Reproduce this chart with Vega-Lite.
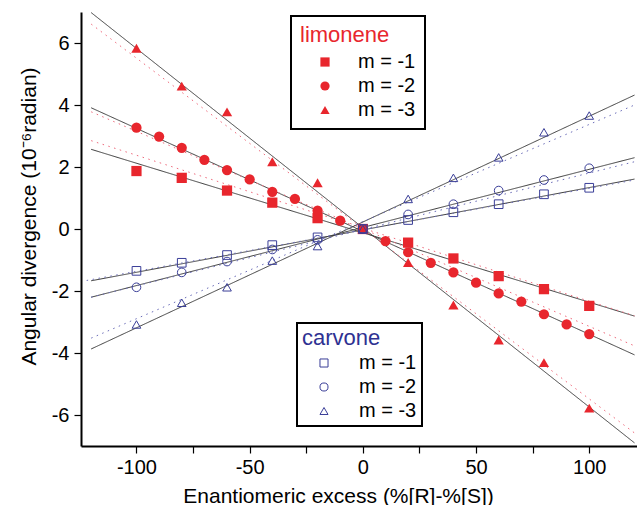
{
  "$schema": "https://vega.github.io/schema/vega-lite/v6.json",
  "width": 556,
  "height": 434,
  "autosize": "none",
  "padding": {"left": 81, "top": 12, "right": 0, "bottom": 59},
  "config": {
    "view": {"stroke": null},
    "font": "Liberation Sans",
    "locale": {"number": {"decimal": ".", "thousands": ",", "grouping": [3], "currency": ["$", ""], "minus": "-"}},
    "axis": {
      "grid": false,
      "domainColor": "black",
      "domainWidth": 2,
      "tickColor": "black",
      "tickWidth": 1.2,
      "tickSize": 7,
      "labelFont": "Liberation Sans",
      "labelFontSize": 20,
      "labelColor": "black",
      "labelOverlap": false,
      "labelFlush": false,
      "titleFont": "Liberation Sans",
      "titleFontSize": 21,
      "titleFontWeight": "normal",
      "titleColor": "black"
    },
    "legend": {"strokeWidth": 2}
  },
  "datasets": {
    "lines": [
      {"id": "ls1", "kind": "fit", "style": "solid", "x": -120, "y": 2.57},
      {"id": "ls1", "kind": "fit", "style": "solid", "x": 120, "y": -2.81},
      {"id": "ls2", "kind": "fit", "style": "solid", "x": -120, "y": 3.91},
      {"id": "ls2", "kind": "fit", "style": "solid", "x": 120, "y": -4.06},
      {"id": "ls3", "kind": "fit", "style": "solid", "x": -120, "y": 6.98},
      {"id": "ls3", "kind": "fit", "style": "solid", "x": 120, "y": -6.9},
      {"id": "ld1", "kind": "limonene", "style": "dotted", "x": -120, "y": 2.85},
      {"id": "ld1", "kind": "limonene", "style": "dotted", "x": 120, "y": -2.8},
      {"id": "ld2", "kind": "limonene", "style": "dotted", "x": -120, "y": 3.78},
      {"id": "ld2", "kind": "limonene", "style": "dotted", "x": 120, "y": -3.77},
      {"id": "ld3", "kind": "limonene", "style": "dotted", "x": -120, "y": 6.61},
      {"id": "ld3", "kind": "limonene", "style": "dotted", "x": 120, "y": -6.58},
      {"id": "cs1", "kind": "fit", "style": "solid", "x": -120, "y": -1.67},
      {"id": "cs1", "kind": "fit", "style": "solid", "x": 120, "y": 1.61},
      {"id": "cs2", "kind": "fit", "style": "solid", "x": -120, "y": -2.2},
      {"id": "cs2", "kind": "fit", "style": "solid", "x": 120, "y": 2.3},
      {"id": "cs3", "kind": "fit", "style": "solid", "x": -120, "y": -3.87},
      {"id": "cs3", "kind": "fit", "style": "solid", "x": 120, "y": 4.32},
      {"id": "cd1", "kind": "carvone", "style": "dotted", "x": -122, "y": -1.66},
      {"id": "cd1", "kind": "carvone", "style": "dotted", "x": 120, "y": 1.58},
      {"id": "cd2", "kind": "carvone", "style": "dotted", "x": -120, "y": -2.2},
      {"id": "cd2", "kind": "carvone", "style": "dotted", "x": 120, "y": 2.17},
      {"id": "cd3", "kind": "carvone", "style": "dotted", "x": -120, "y": -3.52},
      {"id": "cd3", "kind": "carvone", "style": "dotted", "x": 120, "y": 4.0}
    ],
    "points": [
      {"compound": "limonene", "m": "m = -1", "x": -100, "y": 1.87},
      {"compound": "limonene", "m": "m = -1", "x": -80, "y": 1.65},
      {"compound": "limonene", "m": "m = -1", "x": -60, "y": 1.24},
      {"compound": "limonene", "m": "m = -1", "x": -40, "y": 0.85},
      {"compound": "limonene", "m": "m = -1", "x": -20, "y": 0.35},
      {"compound": "limonene", "m": "m = -1", "x": 0, "y": 0},
      {"compound": "limonene", "m": "m = -1", "x": 20, "y": -0.44},
      {"compound": "limonene", "m": "m = -1", "x": 40, "y": -0.95},
      {"compound": "limonene", "m": "m = -1", "x": 60, "y": -1.52},
      {"compound": "limonene", "m": "m = -1", "x": 80, "y": -1.94},
      {"compound": "limonene", "m": "m = -1", "x": 100, "y": -2.48},
      {"compound": "limonene", "m": "m = -2", "x": -100, "y": 3.27},
      {"compound": "limonene", "m": "m = -2", "x": -90, "y": 2.98},
      {"compound": "limonene", "m": "m = -2", "x": -80, "y": 2.62},
      {"compound": "limonene", "m": "m = -2", "x": -70, "y": 2.23},
      {"compound": "limonene", "m": "m = -2", "x": -60, "y": 1.9},
      {"compound": "limonene", "m": "m = -2", "x": -50, "y": 1.6},
      {"compound": "limonene", "m": "m = -2", "x": -40, "y": 1.2},
      {"compound": "limonene", "m": "m = -2", "x": -30, "y": 0.97},
      {"compound": "limonene", "m": "m = -2", "x": -20, "y": 0.59},
      {"compound": "limonene", "m": "m = -2", "x": -10, "y": 0.27},
      {"compound": "limonene", "m": "m = -2", "x": 0, "y": 0},
      {"compound": "limonene", "m": "m = -2", "x": 10, "y": -0.39},
      {"compound": "limonene", "m": "m = -2", "x": 20, "y": -0.75},
      {"compound": "limonene", "m": "m = -2", "x": 30, "y": -1.09},
      {"compound": "limonene", "m": "m = -2", "x": 40, "y": -1.4},
      {"compound": "limonene", "m": "m = -2", "x": 50, "y": -1.73},
      {"compound": "limonene", "m": "m = -2", "x": 60, "y": -2.08},
      {"compound": "limonene", "m": "m = -2", "x": 70, "y": -2.34},
      {"compound": "limonene", "m": "m = -2", "x": 80, "y": -2.75},
      {"compound": "limonene", "m": "m = -2", "x": 90, "y": -3.08},
      {"compound": "limonene", "m": "m = -2", "x": 100, "y": -3.39},
      {"compound": "limonene", "m": "m = -3", "x": -100, "y": 5.83},
      {"compound": "limonene", "m": "m = -3", "x": -80, "y": 4.61},
      {"compound": "limonene", "m": "m = -3", "x": -60, "y": 3.78},
      {"compound": "limonene", "m": "m = -3", "x": -40, "y": 2.17},
      {"compound": "limonene", "m": "m = -3", "x": -20, "y": 1.49},
      {"compound": "limonene", "m": "m = -3", "x": 0, "y": 0},
      {"compound": "limonene", "m": "m = -3", "x": 20, "y": -1.08},
      {"compound": "limonene", "m": "m = -3", "x": 40, "y": -2.45},
      {"compound": "limonene", "m": "m = -3", "x": 60, "y": -3.58},
      {"compound": "limonene", "m": "m = -3", "x": 80, "y": -4.31},
      {"compound": "limonene", "m": "m = -3", "x": 100, "y": -5.78},
      {"compound": "carvone", "m": "m = -1", "x": -100, "y": -1.35},
      {"compound": "carvone", "m": "m = -1", "x": -80, "y": -1.09},
      {"compound": "carvone", "m": "m = -1", "x": -60, "y": -0.84},
      {"compound": "carvone", "m": "m = -1", "x": -40, "y": -0.52},
      {"compound": "carvone", "m": "m = -1", "x": -20, "y": -0.27},
      {"compound": "carvone", "m": "m = -1", "x": 0, "y": 0},
      {"compound": "carvone", "m": "m = -1", "x": 20, "y": 0.29},
      {"compound": "carvone", "m": "m = -1", "x": 40, "y": 0.54},
      {"compound": "carvone", "m": "m = -1", "x": 60, "y": 0.8},
      {"compound": "carvone", "m": "m = -1", "x": 80, "y": 1.12},
      {"compound": "carvone", "m": "m = -1", "x": 100, "y": 1.33},
      {"compound": "carvone", "m": "m = -2", "x": -100, "y": -1.88},
      {"compound": "carvone", "m": "m = -2", "x": -80, "y": -1.4},
      {"compound": "carvone", "m": "m = -2", "x": -60, "y": -1.05},
      {"compound": "carvone", "m": "m = -2", "x": -40, "y": -0.66},
      {"compound": "carvone", "m": "m = -2", "x": -20, "y": -0.35},
      {"compound": "carvone", "m": "m = -2", "x": 0, "y": 0},
      {"compound": "carvone", "m": "m = -2", "x": 20, "y": 0.47},
      {"compound": "carvone", "m": "m = -2", "x": 40, "y": 0.8},
      {"compound": "carvone", "m": "m = -2", "x": 60, "y": 1.24},
      {"compound": "carvone", "m": "m = -2", "x": 80, "y": 1.58},
      {"compound": "carvone", "m": "m = -2", "x": 100, "y": 1.96},
      {"compound": "carvone", "m": "m = -3", "x": -100, "y": -3.08},
      {"compound": "carvone", "m": "m = -3", "x": -80, "y": -2.38},
      {"compound": "carvone", "m": "m = -3", "x": -60, "y": -1.88},
      {"compound": "carvone", "m": "m = -3", "x": -40, "y": -1.02},
      {"compound": "carvone", "m": "m = -3", "x": -20, "y": -0.55},
      {"compound": "carvone", "m": "m = -3", "x": 0, "y": 0},
      {"compound": "carvone", "m": "m = -3", "x": 20, "y": 0.97},
      {"compound": "carvone", "m": "m = -3", "x": 40, "y": 1.65},
      {"compound": "carvone", "m": "m = -3", "x": 60, "y": 2.31},
      {"compound": "carvone", "m": "m = -3", "x": 80, "y": 3.12},
      {"compound": "carvone", "m": "m = -3", "x": 100, "y": 3.66}
    ]
  },
  "layer": [
    {
      "data": {"name": "lines"},
      "mark": {"type": "line", "strokeWidth": 1, "clip": true},
      "encoding": {
        "x": {
          "field": "x", "type": "quantitative",
          "scale": {"domain": [-124.5, 121.1], "nice": false, "zero": false},
          "axis": {
            "values": [-100, -75, -50, -25, 0, 25, 50, 75, 100],
            "labelExpr": "datum.value % 50 == 0 ? datum.label : ''",
            "labelPadding": 4,
            "title": "Enantiomeric excess (%[R]-%[S])",
            "titleX": 257,
            "titleY": 56,
            "titleAlign": "center",
            "titleBaseline": "alphabetic"
          }
        },
        "y": {
          "field": "y", "type": "quantitative",
          "scale": {"domain": [-7, 7], "nice": false, "zero": false},
          "axis": {
            "values": [-6, -5, -4, -3, -2, -1, 0, 1, 2, 3, 4, 5, 6],
            "labelExpr": "datum.label == '-5' || datum.label == '-3' || datum.label == '-1' || datum.label == '1' || datum.label == '3' || datum.label == '5' ? '' : datum.label",
            "labelPadding": 5,
            "title": "Angular divergence (10⁻⁶radian)",
            "titleX": -46,
            "titleY": 204,
            "titleAngle": 270,
            "titleAlign": "center",
            "titleBaseline": "alphabetic"
          }
        },
        "detail": {"field": "id"},
        "color": {
          "field": "kind", "type": "nominal",
          "scale": {"domain": ["fit", "limonene", "carvone"], "range": ["#3c3c3c", "#ee6a7c", "#6a6cb8"]},
          "legend": null
        },
        "strokeDash": {
          "field": "style", "type": "nominal",
          "scale": {"domain": ["solid", "dotted"], "range": [[1, 0], [1.5, 4.5]]},
          "legend": null
        }
      }
    },
    {
      "data": {"name": "points"},
      "transform": [{"filter": "datum.compound == 'limonene'"}],
      "mark": {"type": "point", "filled": true, "color": "#e8262d", "size": 105, "opacity": 1},
      "encoding": {
        "x": {"field": "x", "type": "quantitative"},
        "y": {"field": "y", "type": "quantitative"},
        "shape": {
          "field": "m", "type": "nominal",
          "scale": {"domain": ["m = -1", "m = -2", "m = -3"], "range": ["square", "circle", "triangle-up"]},
          "legend": {
            "title": "limonene",
            "orient": "none",
            "legendX": 210,
            "legendY": 4,
            "titleColor": "#e8262d",
            "titleFont": "Liberation Sans",
            "titleFontSize": 22,
            "titleFontWeight": "normal",
            "titlePadding": 5,
            "labelFont": "Liberation Sans",
            "labelFontSize": 20,
            "labelColor": "black",
            "strokeColor": "black",
            "fillColor": "white",
            "padding": 9,
            "rowPadding": 4,
            "symbolOffset": 15,
            "labelOffset": 23,
            "symbolSize": 85
          }
        }
      }
    },
    {
      "data": {"name": "points"},
      "transform": [{"filter": "datum.compound == 'carvone'"}],
      "mark": {"type": "point", "filled": false, "color": "#3a3e98", "size": 75, "strokeWidth": 1, "opacity": 1},
      "encoding": {
        "x": {"field": "x", "type": "quantitative"},
        "y": {"field": "y", "type": "quantitative"},
        "shape": {
          "field": "m", "type": "nominal",
          "scale": {"domain": ["m = -1", "m = -2", "m = -3"], "range": ["square", "circle", "triangle-up"]},
          "legend": {
            "title": "carvone",
            "orient": "none",
            "legendX": 216,
            "legendY": 311,
            "titleColor": "#2e3192",
            "titleFont": "Liberation Sans",
            "titleFontSize": 22,
            "titleFontWeight": "normal",
            "titlePadding": 3,
            "labelFont": "Liberation Sans",
            "labelFontSize": 20,
            "labelColor": "black",
            "strokeColor": "black",
            "fillColor": "white",
            "padding": 5,
            "rowPadding": 4,
            "symbolOffset": 12,
            "labelOffset": 25,
            "symbolSize": 65,
            "symbolStrokeWidth": 1
          }
        }
      }
    }
  ],
  "resolve": {"scale": {"shape": "independent"}, "legend": {"shape": "independent"}}
}
